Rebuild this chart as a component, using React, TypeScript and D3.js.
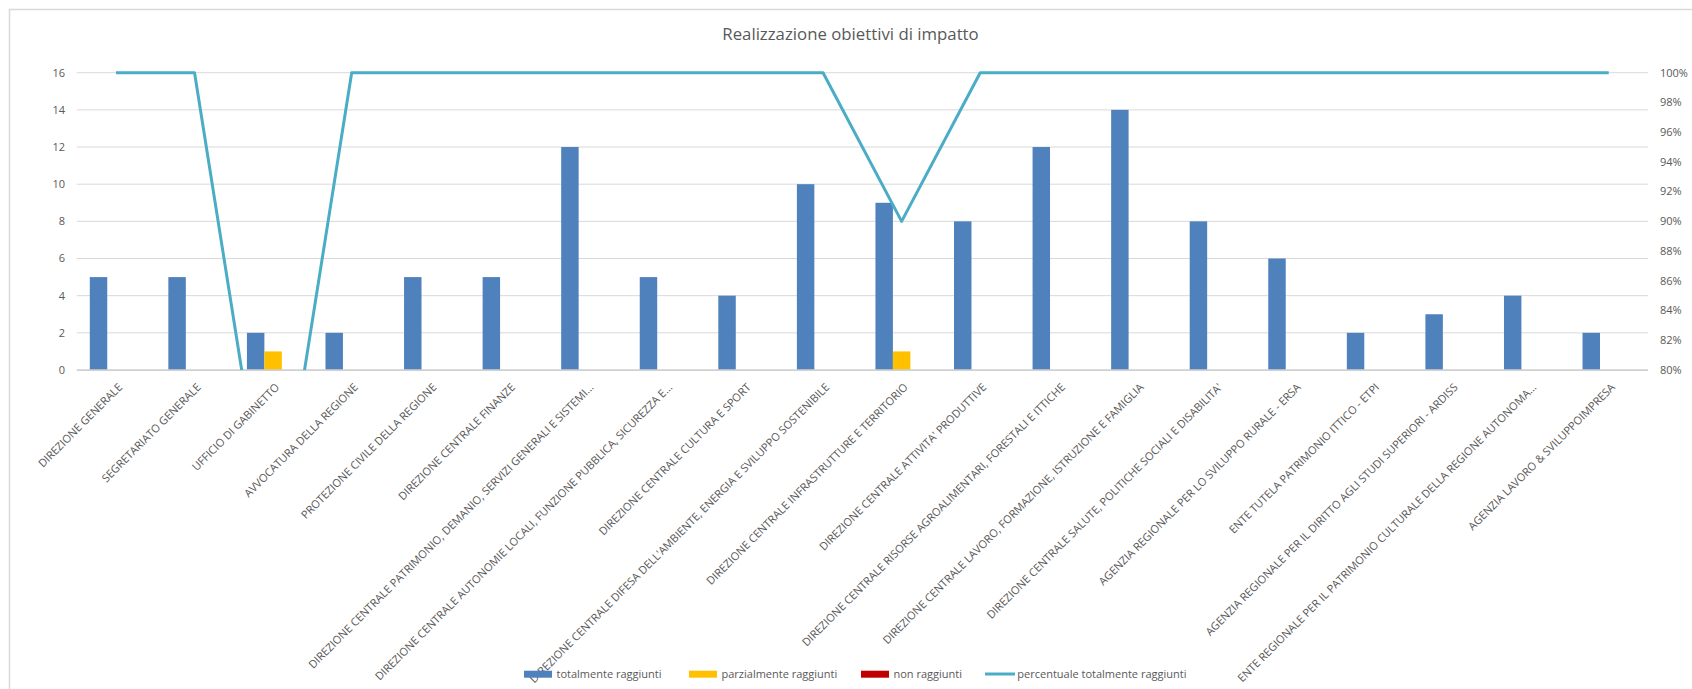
import React from "react";
import * as d3 from "d3";

const title = "Realizzazione obiettivi di impatto";

const categories = [
  "DIREZIONE GENERALE",
  "SEGRETARIATO GENERALE",
  "UFFICIO DI GABINETTO",
  "AVVOCATURA DELLA REGIONE",
  "PROTEZIONE CIVILE DELLA REGIONE",
  "DIREZIONE CENTRALE FINANZE",
  "DIREZIONE CENTRALE PATRIMONIO, DEMANIO, SERVIZI GENERALI E SISTEMI…",
  "DIREZIONE CENTRALE AUTONOMIE LOCALI, FUNZIONE PUBBLICA, SICUREZZA E…",
  "DIREZIONE CENTRALE CULTURA E SPORT",
  "DIREZIONE CENTRALE DIFESA DELL'AMBIENTE, ENERGIA E SVILUPPO SOSTENIBILE",
  "DIREZIONE CENTRALE INFRASTRUTTURE E TERRITORIO",
  "DIREZIONE CENTRALE ATTIVITA' PRODUTTIVE",
  "DIREZIONE CENTRALE RISORSE AGROALIMENTARI, FORESTALI E ITTICHE",
  "DIREZIONE CENTRALE LAVORO, FORMAZIONE, ISTRUZIONE E FAMIGLIA",
  "DIREZIONE CENTRALE SALUTE, POLITICHE SOCIALI E DISABILITA'",
  "AGENZIA REGIONALE PER LO SVILUPPO RURALE - ERSA",
  "ENTE TUTELA PATRIMONIO ITTICO - ETPI",
  "AGENZIA REGIONALE PER IL DIRITTO AGLI STUDI SUPERIORI - ARDISS",
  "ENTE REGIONALE PER IL PATRIMONIO CULTURALE DELLA REGIONE AUTONOMA…",
  "AGENZIA LAVORO & SVILUPPOIMPRESA",
];

const totalmente = [5, 5, 2, 2, 5, 5, 12, 5, 4, 10, 9, 8, 12, 14, 8, 6, 2, 3, 4, 2];
const parzialmente = [0, 0, 1, 0, 0, 0, 0, 0, 0, 0, 1, 0, 0, 0, 0, 0, 0, 0, 0, 0];
const nonRaggiunti = [0, 0, 0, 0, 0, 0, 0, 0, 0, 0, 0, 0, 0, 0, 0, 0, 0, 0, 0, 0];
const percentuale = [1, 1, 0.6667, 1, 1, 1, 1, 1, 1, 1, 0.9, 1, 1, 1, 1, 1, 1, 1, 1, 1];

const leftTicks = [0, 2, 4, 6, 8, 10, 12, 14, 16];
const rightTicks = [0.8, 0.82, 0.84, 0.86, 0.88, 0.9, 0.92, 0.94, 0.96, 0.98, 1.0];

const seriesNames = ["totalmente raggiunti", "parzialmente raggiunti", "non raggiunti"];
const lineName = "percentuale totalmente raggiunti";

const COLORS = ["#4F81BD", "#FFC000", "#C00000"];
const LINE_COLOR = "#4BACC6";
const TEXT = "#595959";
const FONT = "'Open Sans', 'Noto Sans', sans-serif";

export default function App() {
  const W = 1692;
  const H = 689;
  const left = 76.7;
  const right = 1648;
  const top = 72.7;
  const bottom = 370;

  const x = d3.scaleBand<string>().domain(categories).range([left, right]).padding(0);
  const B = x.bandwidth();
  const barW = B / 4.5;
  const gStart = (B - 3 * barW) / 2;
  const xs = d3.scaleBand<string>().domain(seriesNames).range([gStart, gStart + 3 * barW]).padding(0);
  const yL = d3.scaleLinear().domain([0, 16]).range([bottom, top]);
  const yR = d3.scaleLinear().domain([0.8, 1.0]).range([bottom, top]);

  const seriesValues = [totalmente, parzialmente, nonRaggiunti];
  const line = d3
    .line<number>()
    .x((_, i) => (x(categories[i]) as number) + B / 2)
    .y((d) => yR(d));

  const legendX = [524, 689, 861, 985];
  const pctFmt = d3.format(".0%");

  return (
    <svg
      width={W}
      height={H}
      style={{ position: "absolute", left: 0, top: 0, background: "#fff" }}
      fontFamily={FONT}
    >
      <defs>
        <clipPath id="plotClip">
          <rect x={left} y={0} width={right - left} height={bottom} />
        </clipPath>
      </defs>
      {/* chart border */}
      <rect x={9.5} y={9.5} width={W + 20} height={H + 20} fill="#fff" stroke="#D9D9D9" strokeWidth={1.5} />

      <text x={850.5} y={40} textAnchor="middle" fontSize={16.8} fill={TEXT}>
        {title}
      </text>

      {/* gridlines */}
      {leftTicks.map((t) =>
        t === 0 ? null : (
          <line key={"g" + t} x1={left} x2={right} y1={yL(t)} y2={yL(t)} stroke="#D9D9D9" strokeWidth={1} />
        )
      )}

      {/* bars */}
      {seriesValues.map((vals, si) =>
        vals.map((v, i) =>
          v > 0 ? (
            <rect
              key={si + "-" + i}
              x={(x(categories[i]) as number) + (xs(seriesNames[si]) as number)}
              y={yL(v)}
              width={xs.bandwidth()}
              height={yL(0) - yL(v)}
              fill={COLORS[si]}
            />
          ) : null
        )
      )}

      {/* baseline */}
      <line x1={left} x2={right} y1={yL(0)} y2={yL(0)} stroke="#D0D0D0" strokeWidth={1.75} />

      {/* line series */}
      <path
        d={line(percentuale) || ""}
        fill="none"
        stroke={LINE_COLOR}
        strokeWidth={3}
        strokeLinejoin="round"
        clipPath="url(#plotClip)"
      />

      {/* left axis labels */}
      {leftTicks.map((t) => (
        <text key={"l" + t} x={65} y={yL(t)} dy="0.35em" textAnchor="end" fontSize={11} fill={TEXT}>
          {t}
        </text>
      ))}

      {/* right axis labels */}
      {rightTicks.map((t) => (
        <text key={"r" + t} x={1660} y={yR(t)} dy="0.35em" textAnchor="start" fontSize={11} fill={TEXT}>
          {pctFmt(t)}
        </text>
      ))}

      {/* x labels */}
      {categories.map((c) => {
        const cx = (x(c) as number) + B / 2 + 7;
        const cy = 388;
        return (
          <text
            key={c}
            x={cx}
            y={cy}
            textAnchor="end"
            fontSize={11}
            fill={TEXT}
            transform={`rotate(-45 ${cx} ${cy})`}
          >
            {c}
          </text>
        );
      })}

      {/* legend */}
      {seriesNames.map((s, i) => (
        <g key={s}>
          <rect x={legendX[i]} y={670.7} width={28} height={7} fill={COLORS[i]} />
          <text x={legendX[i] + 32.5} y={674} dy="0.35em" fontSize={11} fill={TEXT}>
            {s}
          </text>
        </g>
      ))}
      <g>
        <line x1={legendX[3]} x2={legendX[3] + 30} y1={674} y2={674} stroke={LINE_COLOR} strokeWidth={3} />
        <text x={legendX[3] + 32.3} y={674} dy="0.35em" fontSize={11} fill={TEXT}>
          {lineName}
        </text>
      </g>
    </svg>
  );
}
